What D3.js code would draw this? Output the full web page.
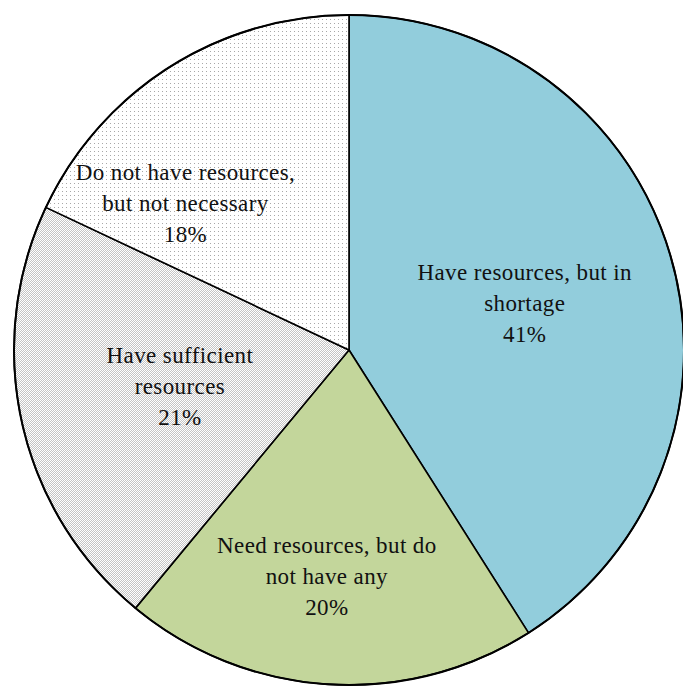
<!DOCTYPE html>
<html>
<head>
<meta charset="utf-8">
<script src="https://cdn.jsdelivr.net/npm/d3@7"></script>
<style>
  html, body { margin: 0; padding: 0; background: #fff; }
  svg { display: block; }
</style>
</head>
<body>
<svg id="chart" width="683" height="687"></svg>
<script>
// Resource availability shares, clockwise from 12 o'clock
const categories = [
  "Have resources, but in shortage",
  "Need resources, but do not have any",
  "Have sufficient resources",
  "Do not have resources, but not necessary"
];
const values = [41, 20, 21, 18];
const labelLines = [
  ["Have resources, but in", "shortage"],
  ["Need resources, but do", "not have any"],
  ["Have sufficient", "resources"],
  ["Do not have resources,", "but not necessary"]
];

// Label placement: fraction of radius and angular nudge (degrees)
const labelPlace = [[0.543, 1.2], [0.678, 2], [0.516, 0.6], [0.657, -15.6]];
const fills = ["#92CDDC", "#C3D69B", "url(#dense)", "url(#sparse)"];

const svg = d3.select("#chart");
const cx = 349, cy = 350, r = 335;

const defs = svg.append("defs");
const sparse = defs.append("pattern").attr("id", "sparse")
  .attr("patternUnits", "userSpaceOnUse").attr("width", 4).attr("height", 4);
sparse.append("rect").attr("width", 4).attr("height", 4).attr("fill", "#fff");
sparse.append("rect").attr("x", 1).attr("y", 1).attr("width", 1).attr("height", 1).attr("fill", "#a8a8a8");

const dense = defs.append("pattern").attr("id", "dense")
  .attr("patternUnits", "userSpaceOnUse").attr("width", 2).attr("height", 2);
dense.append("rect").attr("width", 2).attr("height", 2).attr("fill", "#fff");
dense.append("rect").attr("x", 0).attr("y", 0).attr("width", 1).attr("height", 1).attr("fill", "#c4c4c4");
dense.append("rect").attr("x", 1).attr("y", 1).attr("width", 1).attr("height", 1).attr("fill", "#c4c4c4");

const pie = d3.pie().sort(null).value(d => d)(values);
const arc = d3.arc().innerRadius(0).outerRadius(r);

const g = svg.append("g").attr("transform", `translate(${cx},${cy})`);

g.selectAll("path.slice").data(pie).join("path")
  .attr("class", "slice")
  .attr("d", arc)
  .attr("fill", (d, i) => fills[i])
  .attr("stroke", "#000")
  .attr("stroke-width", 1.6)
  .attr("stroke-linejoin", "round");

g.append("circle").attr("r", r).attr("fill", "none")
  .attr("stroke", "#000").attr("stroke-width", 2);

g.selectAll("text.lbl").data(pie).join("text")
  .attr("class", "lbl")
  .attr("font-family", "'Liberation Serif', 'Times New Roman', serif")
  .attr("font-size", 23)
  .attr("letter-spacing", 0.4)
  .attr("fill", "#111")
  .attr("text-anchor", "middle")
  .each(function(d, i) {
    const [frac, shift] = labelPlace[i];
    const a = (d.startAngle + d.endAngle) / 2 + shift * Math.PI / 180;
    const x = Math.sin(a) * r * frac;
    const y = -Math.cos(a) * r * frac;
    const lines = labelLines[i].concat([values[i] + "%"]);
    const t = d3.select(this);
    lines.forEach((ln, k) => {
      t.append("tspan")
        .attr("x", x)
        .attr("y", y + (k - 1) * 31 + 8)
        .text(ln);
    });
  });
</script>
</body>
</html>
